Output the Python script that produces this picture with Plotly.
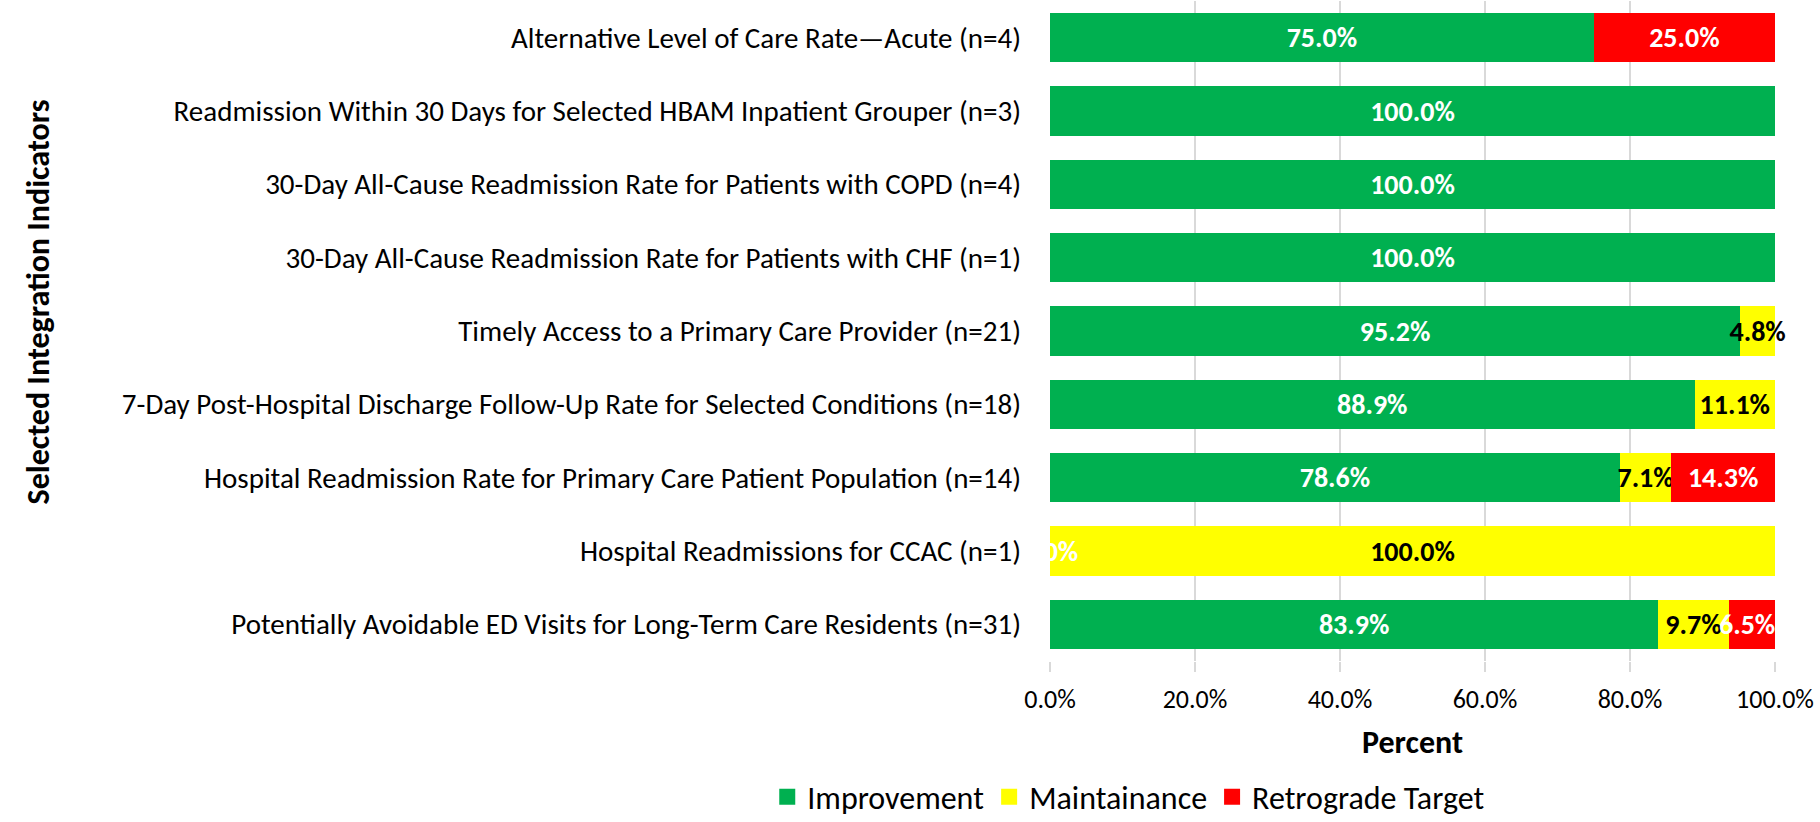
import plotly.graph_objects as go

categories = [
    "Alternative Level of Care Rate\u2014Acute (n=4)",
    "Readmission Within 30 Days for Selected HBAM Inpatient Grouper (n=3)",
    "30-Day All-Cause Readmission Rate for Patients with COPD (n=4)",
    "30-Day All-Cause Readmission Rate for Patients with CHF (n=1)",
    "Timely Access to a Primary Care Provider (n=21)",
    "7-Day Post-Hospital Discharge Follow-Up Rate for Selected Conditions (n=18)",
    "Hospital Readmission Rate for Primary Care Patient Population (n=14)",
    "Hospital Readmissions for CCAC (n=1)",
    "Potentially Avoidable ED Visits for Long-Term Care Residents (n=31)",
]
improvement = [0.750, 1.000, 1.000, 1.000, 0.952, 0.889, 0.786, 0.000, 0.839]
maintainance = [0.000, 0.000, 0.000, 0.000, 0.048, 0.111, 0.071, 1.000, 0.097]
retrograde = [0.250, 0.000, 0.000, 0.000, 0.000, 0.000, 0.143, 0.000, 0.065]
x_ticks = [0, 0.2, 0.4, 0.6, 0.8, 1.0]

FONT = "Carlito, Lato, sans-serif"
LBL = 28


def pct(v):
    return "%.1f%%" % (v * 100)


def labels(vals):
    return [pct(v) if v > 0 else "" for v in vals]


series = [
    ("Improvement", improvement, "#00B050", "white", True),
    ("Maintainance", maintainance, "#FFFF00", "black", False),
    ("Retrograde Target", retrograde, "#FF0000", "white", True),
]

# the last small red label is pushed back inside the plot (right aligned), like the original
last = len(categories) - 1
red_text = labels(retrograde)
red_text[last] = ""

fig = go.Figure()
for name, vals, col, tcol, clip in series:
    txt = red_text if vals is retrograde else labels(vals)
    fig.add_trace(go.Bar(
        y=categories, x=vals, name=name, orientation="h", showlegend=False,
        marker=dict(color=col, line=dict(width=0)),
        text=txt, textposition="inside", insidetextanchor="middle",
        textangle=0, constraintext="none",
        textfont=dict(family=FONT, size=LBL, color=tcol, weight="bold"),
        cliponaxis=clip,
    ))
# legend entries with larger square keys
for name, vals, col, tcol, clip in series:
    fig.add_trace(go.Scatter(
        x=[None], y=[None], mode="markers", name=name,
        marker=dict(symbol="square", size=17, color=col),
    ))

end_last = improvement[last] + maintainance[last] + retrograde[last]
fig.add_annotation(x=min(end_last, 1.0), y=categories[last], text=pct(retrograde[last]),
                   showarrow=False, xanchor="right", xshift=2,
                   font=dict(family=FONT, size=LBL, color="white", weight="bold"))

# zero-width improvement bar still carries its label in the original
i = categories.index("Hospital Readmissions for CCAC (n=1)")
fig.add_annotation(x=improvement[i], y=categories[i], text=pct(improvement[i]),
                   showarrow=False, xanchor="center",
                   font=dict(family=FONT, size=LBL, color="white", weight="bold"))

fig.add_annotation(x=0, xref="paper", xshift=-1033, y=0.544, yref="paper",
                   text="Selected Integration Indicators", textangle=-90, showarrow=False,
                   font=dict(family=FONT, size=32, color="black", weight="bold"))

fig.update_layout(
    width=1820, height=822,
    margin=dict(l=1050, r=45, t=1, b=161, autoexpand=False),
    barmode="stack", bargap=0.33,
    plot_bgcolor="white", paper_bgcolor="white",
    font=dict(family=FONT, size=28, color="black"),
    showlegend=True,
    legend=dict(orientation="h", x=-0.39, xanchor="left", y=-0.206, yanchor="middle",
                font=dict(size=32), traceorder="normal"),
    xaxis=dict(range=[0, 1], tickvals=x_ticks, tickformat=".1%",
               showgrid=True, gridcolor="#D9D9D9", gridwidth=2,
               ticks="outside", ticklen=10, tickcolor="#D9D9D9", tickwidth=2,
               zeroline=False, showline=False,
               tickfont=dict(size=26), ticklabelstandoff=5,
               title=dict(text="Percent", font=dict(size=32, weight="bold"), standoff=16)),
    yaxis=dict(autorange="reversed", showgrid=False, showline=False, ticks="",
               ticklabelstandoff=28, tickfont=dict(size=29)),
)

fig.write_html("out.html", config={"displayModeBar": False},
               post_script="document.body.style.margin='0px';")
